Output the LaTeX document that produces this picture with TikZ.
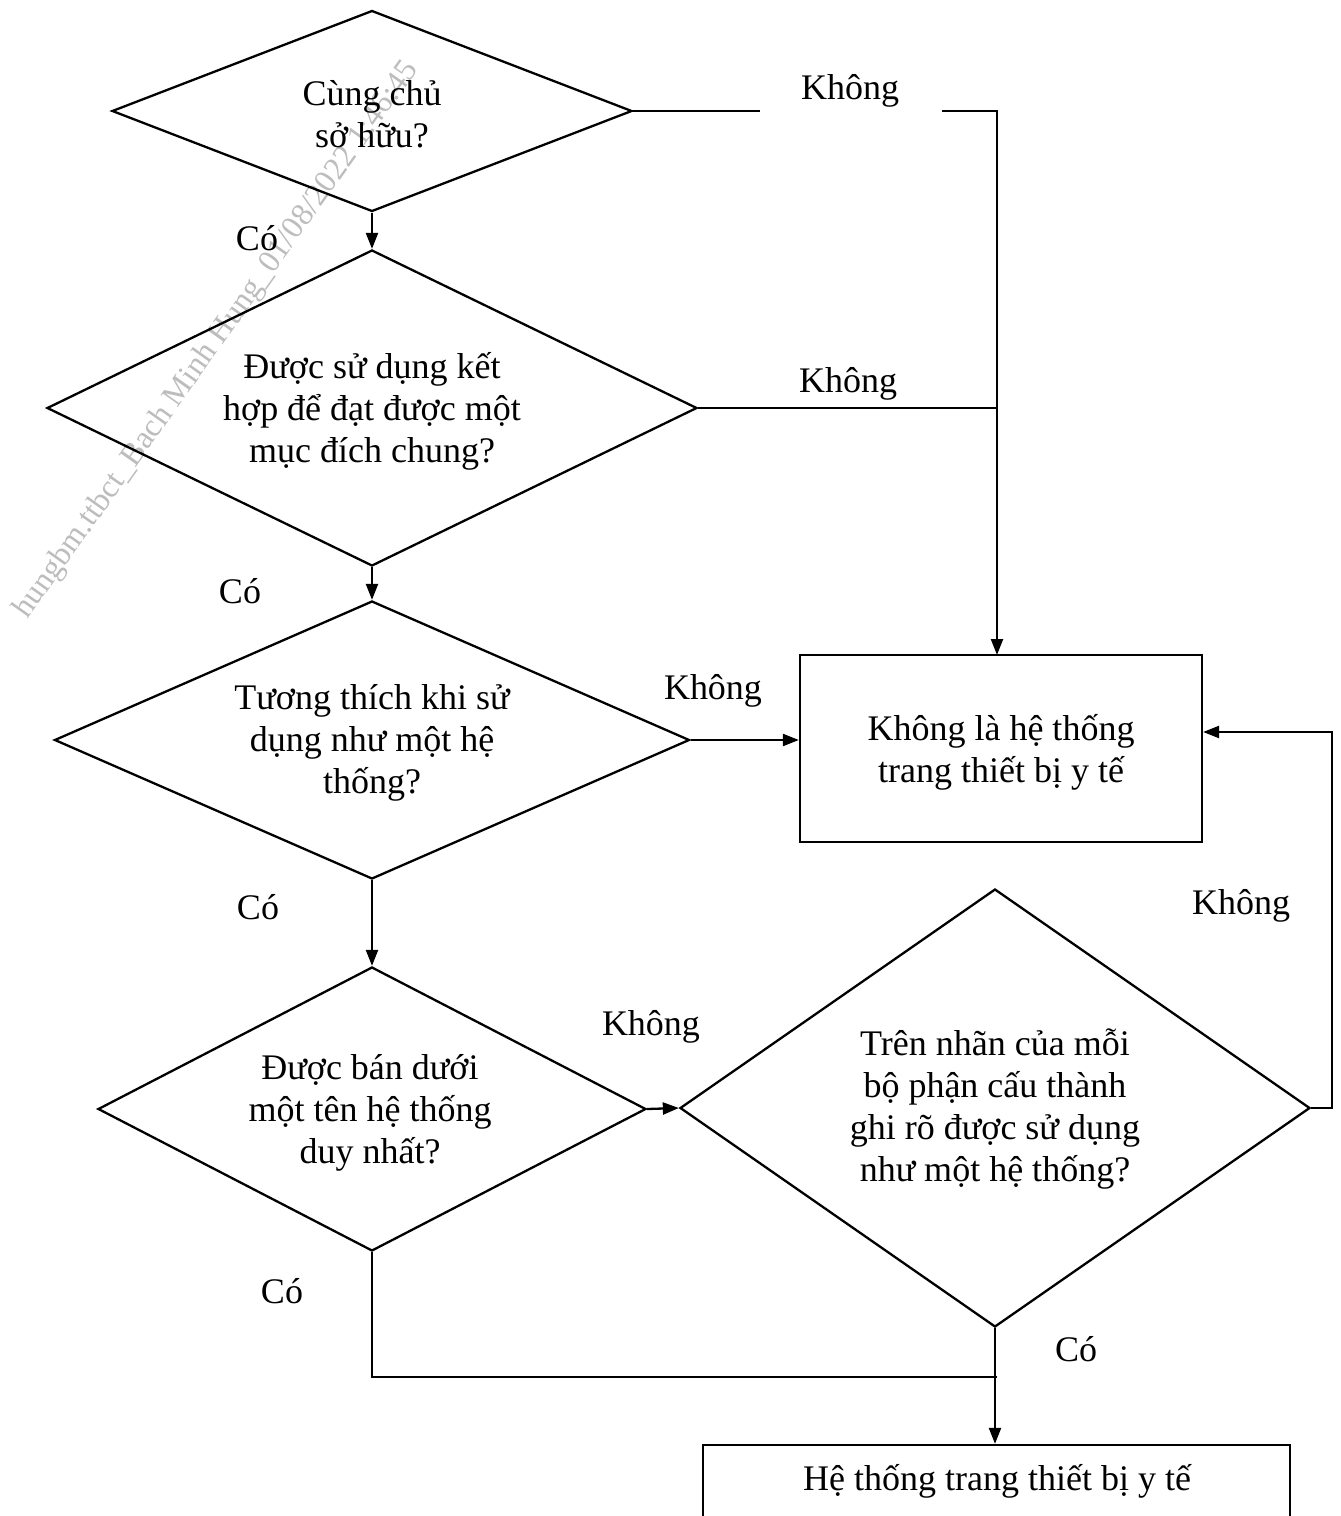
\documentclass[tikz,border=0pt]{standalone}
\usepackage{fontspec}
\setmainfont{Liberation Serif}
\usetikzlibrary{shapes.geometric,arrows.meta,calc}
\begin{document}
\begin{tikzpicture}[x=1pt,y=-1pt,
  line width=2.3pt,
  txt/.style={font=\fontsize{36}{42}\selectfont,align=center,inner sep=0pt},
  dia/.style={draw,diamond,inner sep=0pt},
  boxs/.style={draw,rectangle,inner sep=0pt},
  arr/.style={-{Triangle[length=16pt,width=12pt]}},
  wm/.style={font=\fontsize{32}{38}\selectfont,text=black!26,rotate=54.6,inner sep=0pt}
]
\clip (0,0) rectangle (1341,1516);
\fill[white] (0,0) rectangle (1341,1516);

% watermark
\node[wm] (wmark) at (217,340) {hungbm.ttbct\_Bach Minh Hung\_01/08/2022 1:46:45};

% decisions
\node[dia,minimum width=520pt,minimum height=201pt] (d1) at (372,111) {};
\node[txt] (t1) at (372,114) {Cùng chủ\\sở hữu?};

\node[dia,minimum width=650pt,minimum height=316pt] (d2) at (372,408) {};
\node[txt] (t2) at (372,411) {Được sử dụng kết\\hợp để đạt được một\\mục đích chung?};

\node[dia,minimum width=635pt,minimum height=278pt] (d3) at (372,740) {};
\node[txt] (t3) at (372,743) {Tương thích khi sử\\dụng như một hệ\\thống?};

\node[dia,minimum width=548pt,minimum height=284pt] (d4) at (372,1109) {};
\node[txt] (t4) at (370,1113) {Được bán dưới\\một tên hệ thống\\duy nhất?};

\node[dia,minimum width=630pt,minimum height=438pt] (d5) at (995,1108) {};
\node[txt] (t5) at (995,1109) {Trên nhãn của mỗi\\bộ phận cấu thành\\ghi rõ được sử dụng\\như một hệ thống?};

% outcome boxes
\node[boxs,minimum width=402pt,minimum height=187pt] (b1) at (1001,748.5) {};
\node[txt] (tb1) at (1001,752) {Không là hệ thống\\trang thiết bị y tế};

\node[boxs,minimum width=587pt,minimum height=140pt] (b2) at (996.5,1515) {};
\node[txt] (tb2) at (997,1481) {Hệ thống trang thiết bị y tế};

% helper coordinates
\coordinate (k1a) at (760,111);
\coordinate (k1b) at (942,111);
\coordinate (k1c) at (997,111);
\coordinate (k2) at (997,408);
\coordinate (k1d) at (997,655);
\coordinate (r1) at (1332,1108);
\coordinate (r2) at (1332,732);
\coordinate (j1) at (372,1377);
\coordinate (j2) at (997,1377);

% connectors
\draw (d1.east) -- (k1a);
\draw[arr] (k1b) -- (k1c) -- (k1d);
\draw (d2.east) -- (k2);
\draw[arr] (d1.south) -- (d2.north);
\draw[arr] (d2.south) -- (d3.north);
\draw[arr] (d3.south) -- (d4.north);
\draw[arr] (d3.east) -- (d3.east -| b1.west);
\draw[arr] (d4.east) -- (d5.west);
\draw[arr] (d5.east) -- (r1) -- (r2) -- (r2 -| b1.east);
\draw (d4.south) -- (j1) -- (j2);
\draw[arr] (d5.south) -- (d5.south |- b2.north);

% labels
\node[txt] (l1) at (850,91) {Không};
\node[txt] (l2) at (257,238) {Có};
\node[txt] (l3) at (848,384) {Không};
\node[txt] (l4) at (240,591) {Có};
\node[txt] (l5) at (713,691) {Không};
\node[txt] (l6) at (258,907) {Có};
\node[txt] (l7) at (651,1027) {Không};
\node[txt] (l8) at (1241,906) {Không};
\node[txt] (l9) at (282,1291) {Có};
\node[txt] (l10) at (1076,1349) {Có};
\end{tikzpicture}
\end{document}
